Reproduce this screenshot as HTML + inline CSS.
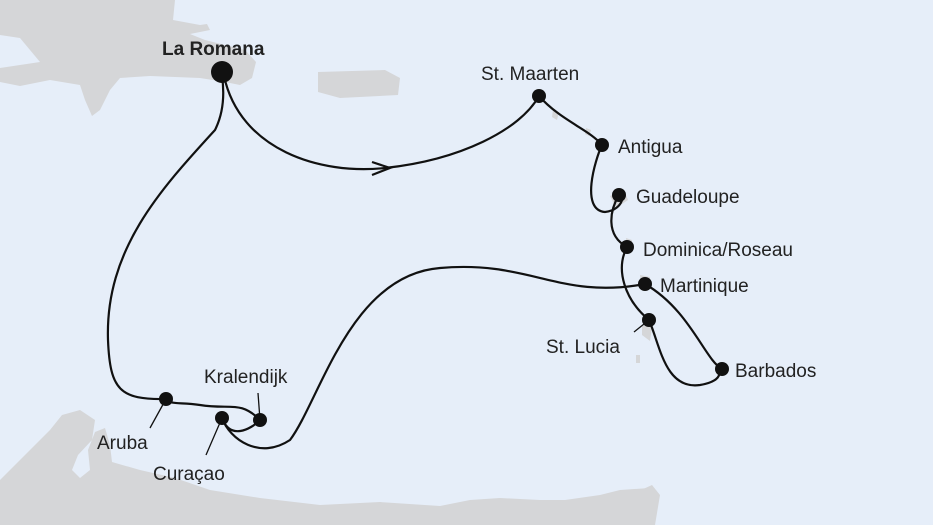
<!DOCTYPE html>
<html><head><meta charset="utf-8"><style>
html,body{margin:0;padding:0;background:#e6eef9;}
svg{display:block}
text{font-family:"Liberation Sans",sans-serif;font-size:19px;fill:#222;}
</style></head><body>
<svg width="933" height="525" viewBox="0 0 933 525">
<rect width="933" height="525" fill="#e6eef9"/>
<g fill="#d5d6d8">
<path d="M0 0 L175 0 L173 20 L200 25 L207 24 L210 30 L190 34 L205 40 L245 50 L256 62 L252 78 L240 85 L225 82 L200 78 L150 76 L120 78 L110 90 L100 110 L92 116 L85 100 L80 85 L50 80 L20 86 L0 82 L0 68 L40 62 L30 50 L20 38 L0 35 Z"/>
<path d="M318 72 L385 70 L400 78 L398 95 L340 98 L318 92 Z"/>
<path d="M0 525 L0 480 L30 450 L50 430 L62 415 L80 410 L95 420 L92 440 L78 455 L72 470 L80 478 L90 470 L88 450 L95 432 L105 428 L110 445 L112 462 L140 470 L175 478 L210 490 L260 498 L320 505 L380 502 L440 506 L470 500 L500 498 L540 500 L565 500 L600 495 L620 490 L650 488 L650 525 Z"/>
<path d="M623 525 L630 495 L652 485 L660 495 L655 525 Z"/>
<path d="M553 110 l6 2 l-2 8 l-5 -3 Z M586 128 l5 2 l-2 6 l-4 -2 Z M610 196 l14 -6 l4 10 l-12 8 Z M626 238 l6 2 l0 10 l-5 -2 Z M640 275 l10 2 l0 12 l-9 -4 Z M642 325 l10 2 l-2 14 l-8 -6 Z M636 355 l4 0 l0 8 l-4 0 Z"/>
</g>
<g fill="none" stroke="#111" stroke-width="2.2">
<path d="M224 76 C240 150 320 175 385 168 C460 160 520 130 539 96"/>
<path d="M539 96 C560 120 590 130 602 145 C595 160 580 210 605 212 C625 210 625 190 619 195 C610 210 605 235 627 247 C615 270 625 300 649 320 C660 345 665 390 700 385 C730 380 715 365 722 369 C705 360 690 310 645 284 C560 300 530 260 440 268 C350 275 320 400 290 440 C260 460 230 440 222 418 C230 440 250 430 260 420 C240 400 230 410 200 405 C180 402 170 405 166 399 C120 400 110 390 108 340 C105 250 160 190 215 130 C225 110 224 90 222 76"/>
<path d="M372 162 L390 168 L372 175"/>
<path d="M166 399 L150 428 M222 418 L206 455 M260 420 L258 393 M649 320 L634 332" stroke-width="1.3"/>
</g>
<g fill="#111">
<circle cx="222" cy="72" r="11"/>
<circle cx="539" cy="96" r="7"/>
<circle cx="602" cy="145" r="7"/>
<circle cx="619" cy="195" r="7"/>
<circle cx="627" cy="247" r="7"/>
<circle cx="645" cy="284" r="7"/>
<circle cx="649" cy="320" r="7"/>
<circle cx="722" cy="369" r="7"/>
<circle cx="166" cy="399" r="7"/>
<circle cx="222" cy="418" r="7"/>
<circle cx="260" cy="420" r="7"/>
</g>
<text x="162" y="55" style="font-weight:bold">La Romana</text>
<text x="481" y="80">St. Maarten</text>
<text x="618" y="153">Antigua</text>
<text x="636" y="203">Guadeloupe</text>
<text x="643" y="256">Dominica/Roseau</text>
<text x="660" y="292">Martinique</text>
<text x="546" y="353">St. Lucia</text>
<text x="735" y="377">Barbados</text>
<text x="204" y="383">Kralendijk</text>
<text x="97" y="449">Aruba</text>
<text x="153" y="480">Curaçao</text>
</svg>
</body></html>
